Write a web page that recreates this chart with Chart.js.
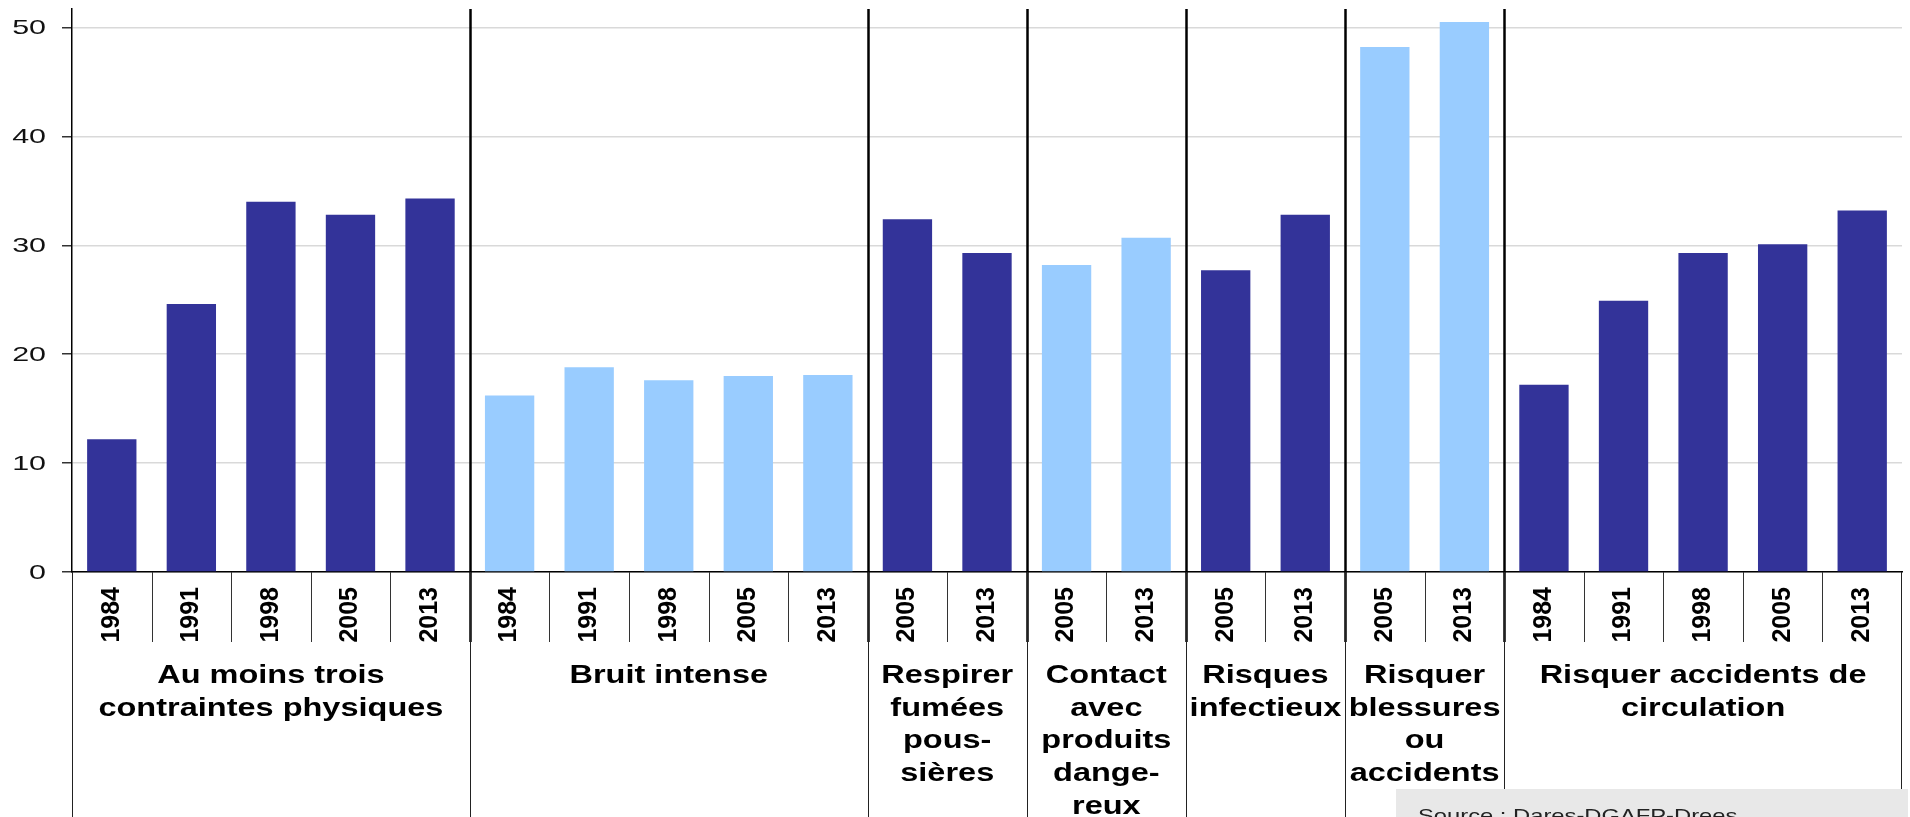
<!DOCTYPE html>
<html>
<head>
<meta charset="utf-8">
<script src="https://cdn.jsdelivr.net/npm/chart.js@4"></script>
<style>
    body { margin: 0; background: #ffffff; }
    #cadre { width: 1910px; height: 817px; }
</style>
</head>
<body>
<div id="cadre"><canvas id="grafico_risques"></canvas></div>
<script>
// annees de chaque barre
var annees = ['1984', '1991', '1998', '2005', '2013',
              '1984', '1991', '1998', '2005', '2013',
              '2005', '2013',
              '2005', '2013',
              '2005', '2013',
              '2005', '2013',
              '1984', '1991', '1998', '2005', '2013'];

// valeurs (%)
var valeurs = [12.2, 24.6, 34.0, 32.8, 34.3,
               16.2, 18.8, 17.6, 18.0, 18.1,
               32.4, 29.3,
               28.2, 30.7,
               27.7, 32.8,
               48.2, 50.5,
               17.2, 24.9, 29.3, 30.1, 33.2];

var groupes = [
    ['Au moins trois', 'contraintes physiques'],
    ['Bruit intense'],
    ['Respirer', 'fumées', 'pous-', 'sières'],
    ['Contact', 'avec', 'produits', 'dange-', 'reux'],
    ['Risques', 'infectieux'],
    ['Risquer', 'blessures', 'ou', 'accidents'],
    ['Risquer accidents de', 'circulation']
];
var tailleGroupes = [5, 5, 2, 2, 2, 2, 5];
var couleurGroupes = ['#333399', '#99CCFF', '#333399', '#99CCFF', '#333399', '#99CCFF', '#333399'];

var graduations = [0, 10, 20, 30, 40, 50];
var source = 'Source : Dares-DGAFP-Drees';

// couleur de chaque barre selon son groupe
var couleurs = [];
for (var g = 0; g < tailleGroupes.length; g++) {
    for (var k = 0; k < tailleGroupes[g]; k++) {
        couleurs.push(couleurGroupes[g]);
    }
}

function texteEtire(ctx, texte, x, y, etirement, align) {
    ctx.save();
    ctx.translate(x, y);
    ctx.scale(etirement, 1);
    ctx.textAlign = align;
    ctx.fillText(texte, 0, 0);
    ctx.restore();
}

var separateurs = {
    id: 'separateurs',
    afterDraw: function (chart) {
        var ctx = chart.ctx;
        var xs = chart.scales.x;
        var ys = chart.scales.y;
        var haut = chart.chartArea.top;
        var axe = chart.chartArea.bottom;
        var gauche = chart.chartArea.left;
        var droite = chart.chartArea.right;
        var bas = chart.height;

        // limites entre categories
        var limites = [gauche];
        for (var i = 1; i < annees.length; i++) {
            limites.push((xs.getPixelForValue(i - 1) + xs.getPixelForValue(i)) / 2);
        }
        limites.push(droite);

        var finGroupes = [];
        var cumul = 0;
        for (var g = 0; g < tailleGroupes.length; g++) {
            cumul += tailleGroupes[g];
            finGroupes.push(cumul);
        }

        ctx.save();
        for (var j = 1; j < annees.length; j++) {
            var x = Math.round(limites[j]) + 0.5;
            if (finGroupes.indexOf(j) >= 0) {
                ctx.strokeStyle = '#000';
                ctx.lineWidth = 2.5;
                ctx.beginPath();
                ctx.moveTo(x, haut);
                ctx.lineTo(x, axe + 70);
                ctx.stroke();
                ctx.lineWidth = 1;
                ctx.strokeStyle = '#222';
                ctx.beginPath();
                ctx.moveTo(x, axe);
                ctx.lineTo(x, bas);
                ctx.stroke();
            } else {
                ctx.lineWidth = 1;
                ctx.strokeStyle = '#333';
                ctx.beginPath();
                ctx.moveTo(x, axe);
                ctx.lineTo(x, axe + 70);
                ctx.stroke();
            }
        }
        // bords du tableau
        ctx.lineWidth = 1;
        ctx.strokeStyle = '#222';
        ctx.beginPath();
        ctx.moveTo(Math.round(gauche) + 0.5, axe);
        ctx.lineTo(Math.round(gauche) + 0.5, bas);
        ctx.moveTo(Math.round(droite) - 0.5, axe);
        ctx.lineTo(Math.round(droite) - 0.5, bas);
        ctx.stroke();

        // libelles des groupes
        ctx.fillStyle = '#000';
        ctx.font = 'bold 25px "Liberation Sans", Arial, sans-serif';
        ctx.textBaseline = 'alphabetic';
        var debut = 0;
        for (var g2 = 0; g2 < groupes.length; g2++) {
            var centre = (limites[debut] + limites[debut + tailleGroupes[g2]]) / 2;
            for (var l = 0; l < groupes[g2].length; l++) {
                texteEtire(ctx, groupes[g2][l], centre, 683 + l * 32.7, 1.3, 'center');
            }
            debut += tailleGroupes[g2];
        }

        // graduations de l'axe vertical
        ctx.font = '21px "Liberation Sans", Arial, sans-serif';
        ctx.fillStyle = '#111';
        ctx.textBaseline = 'middle';
        for (var t = 0; t < graduations.length; t++) {
            texteEtire(ctx, String(graduations[t]), 46, ys.getPixelForValue(graduations[t]) + 1, 1.45, 'right');
        }

        // encadre source
        ctx.fillStyle = '#e8e8e8';
        ctx.fillRect(1396, 789, 512, 28);
        ctx.fillStyle = '#222';
        ctx.font = '19px "Liberation Sans", Arial, sans-serif';
        ctx.textBaseline = 'alphabetic';
        texteEtire(ctx, source, 1418, 822, 1.25, 'left');
        ctx.restore();
    }
};

var contexte = document.getElementById('grafico_risques').getContext('2d');

var grafico = new Chart(contexte, {
    type: 'bar',
    data: {
        labels: annees,
        datasets: [{
            data: valeurs,
            backgroundColor: couleurs,
            borderWidth: 0,
            barPercentage: 0.62,
            categoryPercentage: 1
        }]
    },
    options: {
        responsive: true,
        maintainAspectRatio: false,
        animation: false,
        devicePixelRatio: 1,
        layout: { padding: { top: 9, right: 8, left: 0, bottom: 0 } },
        plugins: {
            legend: { display: false },
            tooltip: { enabled: false }
        },
        scales: {
            x: {
                grid: { display: false, drawTicks: false },
                border: { display: true, color: '#000', width: 1.5 },
                ticks: {
                    autoSkip: false,
                    minRotation: 90,
                    maxRotation: 90,
                    padding: 15,
                    color: '#000',
                    font: { family: '"Liberation Sans", Arial, sans-serif', size: 25, weight: 'bold' }
                },
                afterFit: function (scale) { scale.height = 245; }
            },
            y: {
                min: 0,
                max: 51.7,
                grid: { color: '#d9d9d9', lineWidth: 1.5, tickLength: 10, tickColor: '#333' },
                border: { display: true, color: '#000', width: 1.5 },
                ticks: { stepSize: 10, includeBounds: false, display: false },
                afterFit: function (scale) { scale.width = 72; }
            }
        }
    },
    plugins: [separateurs]
});
</script>
</body>
</html>
